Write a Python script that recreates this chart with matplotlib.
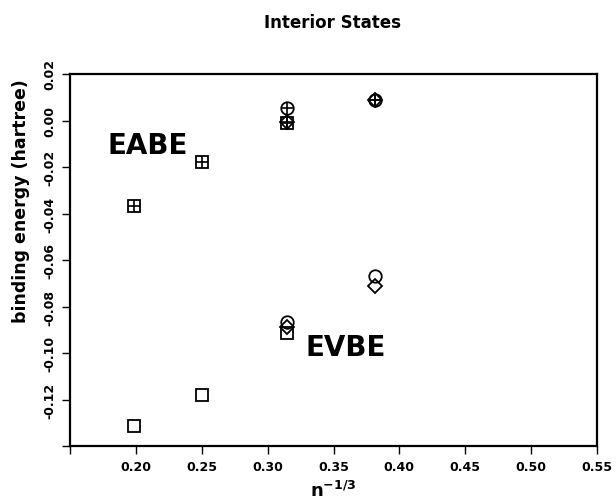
"""Interior states: binding energy vs n^-1/3 for EABE and EVBE."""

import matplotlib
matplotlib.use("Agg")
import matplotlib.pyplot as plt

plt.rcParams["axes.unicode_minus"] = False
plt.rcParams["font.family"] = ["DejaVu Sans"]

# n^-1/3 positions
x_all = [0.1984, 0.25, 0.315]
x_big = [0.315, 0.3816]

# EABE values, hartree
eabe_sq = [-0.0366, -0.0179, -0.0010]
eabe_circ = [0.0053, 0.0088]
eabe_diam = [-0.0008, 0.0088]

# EVBE values, hartree
evbe_sq = [-0.1311, -0.1179, -0.0913]
evbe_circ = [-0.0864, -0.0668]
evbe_diam = [-0.0888, -0.0712]

x_ticks = [0.15, 0.20, 0.25, 0.30, 0.35, 0.40, 0.45, 0.50, 0.55]
x_labels = ["", "0.20", "0.25", "0.30", "0.35", "0.40", "0.45", "0.50", "0.55"]
y_ticks = [-0.14, -0.12, -0.10, -0.08, -0.06, -0.04, -0.02, 0.00, 0.02]
y_labels = ["", "-0.12", "-0.10", "-0.08", "-0.06", "-0.04", "-0.02", "0.00", "0.02"]

fig = plt.figure(figsize=(6.16, 5.02), dpi=100)
ax = fig.add_axes([0.1144, 0.1086, 0.854, 0.742])

ms = 9
mk = dict(color="black", mfc="none", mew=1.3, ms=ms, ls="none")
pl = dict(color="black", mew=1.2, ls="none")

# EABE: markers with a cross inside
ax.plot(x_all, eabe_sq, marker="s", **mk)
ax.plot(x_all, eabe_sq, marker="+", ms=ms - 1, **pl)
ax.plot(x_big, eabe_circ, marker="o", **mk)
ax.plot(x_big, eabe_circ, marker="+", ms=ms - 1, **pl)
ax.plot(x_big, eabe_diam, marker="D", **dict(mk, ms=ms - 2))
ax.plot(x_big, eabe_diam, marker="+", ms=ms - 2, **pl)

# EVBE: open markers
ax.plot(x_all, evbe_sq, marker="s", **mk)
ax.plot(x_big, evbe_circ, marker="o", **mk)
ax.plot(x_big, evbe_diam, marker="D", **dict(mk, ms=ms - 2))

ax.text(0.2089, -0.0105, "EABE", fontsize=20, fontweight="bold",
        ha="center", va="center")
ax.text(0.3596, -0.0971, "EVBE", fontsize=20, fontweight="bold",
        ha="center", va="center")

ax.set_xlim(0.15, 0.55)
ax.set_ylim(-0.14, 0.02)
ax.set_xticks(x_ticks)
ax.set_xticklabels(x_labels, fontsize=9, fontweight="bold")
ax.set_yticks(y_ticks)
ax.set_yticklabels(y_labels, fontsize=9, fontweight="bold",
                   rotation=90, va="center")
ax.tick_params(direction="out", length=6, width=1.0, pad=4)
for side in ax.spines.values():
    side.set_linewidth(1.6)

ax.set_xlabel(r"$\mathbf{n^{-1/3}}$", fontsize=13, labelpad=5)
fig.text(0.034, 0.60, "binding energy (hartree)", rotation=90,
         fontsize=12.5, fontweight="bold", ha="center", va="center")
fig.text(333 / 616, 1 - 23 / 502, "Interior States", fontsize=12,
         fontweight="bold", ha="center", va="center")

fig.savefig("out.png", dpi=100)
